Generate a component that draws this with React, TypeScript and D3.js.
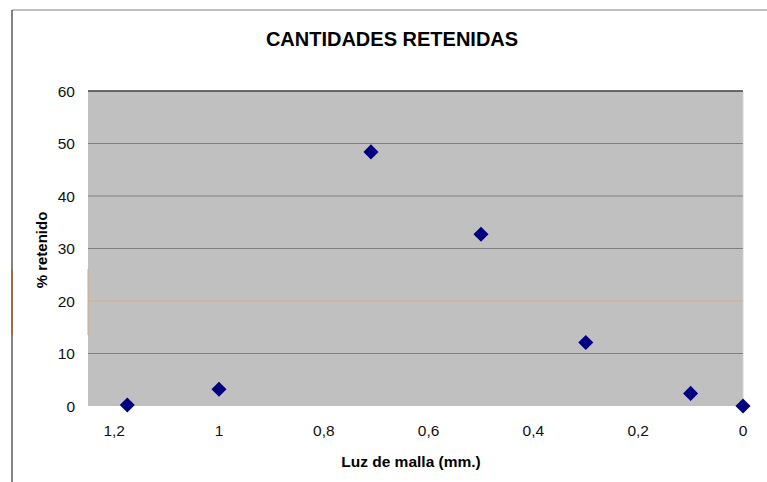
import React from "react";
import * as d3 from "d3";

const TITLE = "CANTIDADES RETENIDAS";
const X_LABEL = "Luz de malla (mm.)";
const Y_LABEL = "% retenido";

const meshSizes = [1.175, 1.0, 0.71, 0.5, 0.3, 0.1, 0];
const retained = [0.2, 3.2, 48.4, 32.7, 12.1, 2.4, 0];

const xTicks = [1.2, 1.0, 0.8, 0.6, 0.4, 0.2, 0];
const yTicks = [0, 10, 20, 30, 40, 50, 60];

const W = 767;
const H = 482;
const plot = { left: 88, right: 743, top: 91, bottom: 406 };

export default function App() {
  const x = d3.scaleLinear().domain([1.25, 0]).range([plot.left, plot.right]);
  const y = d3.scaleLinear().domain([0, 60]).range([plot.bottom, plot.top]);
  const fmt = (v: number) => String(v).replace(".", ",");
  const diamond = d3.symbol().type(d3.symbolDiamond2).size(145)();

  return (
    <svg
      width={W}
      height={H}
      style={{ position: "absolute", left: 0, top: 0, fontFamily: "'Liberation Sans', Arial, sans-serif" }}
    >
      <rect x={0} y={0} width={W} height={H} fill="#ffffff" />
      {/* outer frame */}
      <line x1={12} x2={W} y1={10} y2={10} stroke="#808080" strokeWidth={1.2} />
      <line x1={12} x2={12} y1={10} y2={H} stroke="#404040" strokeWidth={1.3} />
      <line x1={12} x2={12} y1={269} y2={335} stroke="#a06830" strokeWidth={1.3} />

      <text x={392} y={46} textAnchor="middle" fontSize={20} fontWeight="bold" fill="#000">
        {TITLE}
      </text>

      {/* plot area */}
      <rect
        x={plot.left}
        y={plot.top}
        width={plot.right - plot.left}
        height={plot.bottom - plot.top}
        fill="#c0c0c0"
      />
      <line x1={plot.right} x2={plot.right} y1={plot.top} y2={plot.bottom} stroke="#d4d4d4" strokeWidth={1} />
      <line x1={plot.left} x2={plot.left} y1={269} y2={335} stroke="#d8a878" strokeWidth={1} />
      {yTicks.filter((t) => t > 0).map((t) => (
        <line
          key={"g" + t}
          x1={plot.left}
          x2={plot.right}
          y1={y(t)}
          y2={y(t)}
          stroke={t === 60 ? "#404040" : t === 20 ? "#d8b080" : "#808080"}
          strokeWidth={t === 60 ? 1.4 : 1.2}
        />
      ))}

      {/* y tick labels */}
      {yTicks.map((t) => (
        <text key={"yl" + t} x={75} y={y(t) + 5.5} textAnchor="end" fontSize={15.5} fill="#111">
          {t}
        </text>
      ))}
      {/* x tick labels */}
      {xTicks.map((t) => (
        <text key={"xl" + t} x={x(t)} y={436} textAnchor="middle" fontSize={15.5} fill="#111">
          {fmt(t)}
        </text>
      ))}

      <text x={411} y={466.5} textAnchor="middle" fontSize={15.5} fontWeight="bold" fill="#000">
        {X_LABEL}
      </text>
      <text
        transform="translate(46.5,250) rotate(-90)"
        textAnchor="middle"
        fontSize={15}
        fontWeight="bold"
        fill="#000"
      >
        {Y_LABEL}
      </text>

      {meshSizes.map((m, i) => (
        <path
          key={"p" + i}
          d={diamond || ""}
          transform={`translate(${x(m)},${y(retained[i])})`}
          fill="#000080"
        />
      ))}
    </svg>
  );
}
